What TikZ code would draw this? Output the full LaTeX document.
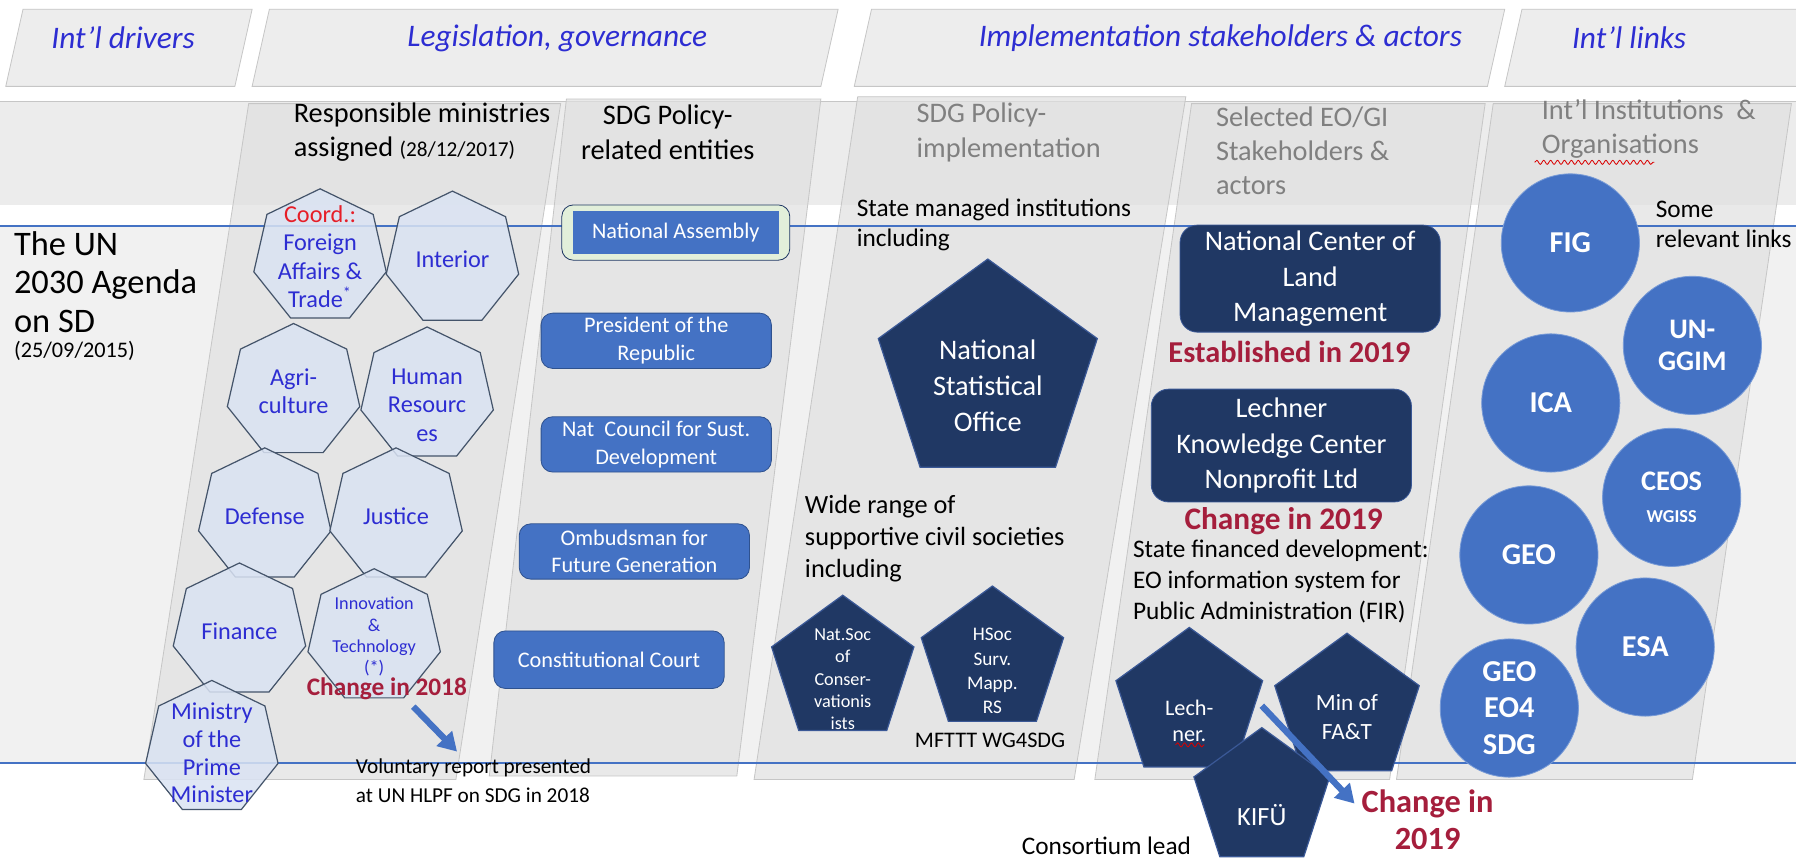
\documentclass[tikz,border=0pt]{standalone}
\usepackage{fontspec}
\setmainfont{Carlito}
\usetikzlibrary{shapes.geometric,arrows.meta,decorations.pathmorphing}
\definecolor{hdrblue}{RGB}{45,45,210}
\definecolor{coordred}{RGB}{230,30,40}
\definecolor{minfill}{RGB}{218,227,243}
\definecolor{minline}{RGB}{68,84,106}
\definecolor{boxblue}{RGB}{68,114,196}
\definecolor{boxline}{RGB}{47,82,143}
\definecolor{navy}{RGB}{32,56,100}
\definecolor{pentline}{RGB}{58,88,150}
\definecolor{orgline}{RGB}{120,155,215}
\definecolor{changered}{RGB}{165,30,60}
\definecolor{headgray}{RGB}{128,128,128}
\definecolor{panelgray}{RGB}{224,224,224}
\definecolor{edgegray}{RGB}{198,198,198}
\definecolor{bandgray}{RGB}{236,236,236}
\definecolor{areagray}{RGB}{241,241,241}
\definecolor{hdrfill}{RGB}{237,237,237}
\definecolor{paleframe}{RGB}{226,239,218}

\begin{document}
\begin{tikzpicture}[x=0.2mm, y=-0.2mm,
    hdr/.style={fill=hdrfill, draw=edgegray},
    hdrtext/.style={text=hdrblue, font=\itshape\fontsize{15.5}{19}\selectfont},
    panel/.style={fill=panelgray, fill opacity=0.7, draw=edgegray},
    colhead/.style={align=left, anchor=west, font=\fontsize{14}{17}\selectfont},
    note/.style={align=left, anchor=west, font=\fontsize{12.5}{15}\selectfont},
    agenda/.style={draw=boxblue, line width=1pt},
    ministry/.style={regular polygon, regular polygon sides=7, minimum size=23.6mm, inner sep=0pt,
        draw=minline, fill=minfill, fill opacity=0.85, line width=0.6pt},
    mintext/.style={align=center, text=hdrblue, font=\fontsize{12}{14}\selectfont},
    entity/.style={rounded corners=2mm, fill=boxblue, draw=boxline, text=white, align=center,
        minimum width=40mm, minimum height=9.6mm, inner sep=1pt, font=\fontsize{11}{13.7}\selectfont},
    pent/.style={regular polygon, regular polygon sides=5, inner sep=0pt, draw=pentline, fill=navy, line width=0.6pt},
    penttext/.style={align=center, text=white},
    stake/.style={rounded corners=3mm, fill=navy, draw=pentline, text=white, align=center,
        minimum width=45.2mm, minimum height=18.6mm, inner sep=0pt, font=\fontsize{14}{17.5}\selectfont},
    org/.style={circle, fill=boxblue, draw=orgline, minimum size=24mm, inner sep=0.5mm, text=white,
        align=center, font=\bfseries\fontsize{15}{17}\selectfont},
    change/.style={text=changered, align=center, font=\bfseries\fontsize{15}{18}\selectfont},
    moveline/.style={draw=boxblue, line width=1.1mm, -{Triangle[length=3.2mm,width=3.6mm]}},
    squiggle/.style={draw=red!85!black, decorate, decoration={snake, amplitude=0.35mm, segment length=1.2mm}},
]
    % Canvas and bands
    \useasboundingbox (0,0) rectangle (1560,747);
    \fill[white] (0,0) rectangle (1560,747);
    \fill[bandgray] (0,88) rectangle (1560,178);
    \draw[edgegray] (0,88) -- (1560,88);
    \fill[areagray] (0,196) rectangle (1560,663);

    % Header row
    \draw[hdr] (20,8) -- (219,8) -- (204,75) -- (5,75) -- cycle;
    \draw[hdr] (234,8) -- (728,8) -- (713,75) -- (219,75) -- cycle;
    \draw[hdr] (757,8) -- (1307,8) -- (1292,75) -- (742,75) -- cycle;
    \draw[hdr] (1322,8) -- (1600,8) -- (1585,75) -- (1307,75) -- cycle;
    \node[hdrtext] (hddrivers) at (107,33) {Int’l drivers};
    \node[hdrtext] (hdlegis) at (484,33) {Legislation, governance};
    \node[hdrtext] (hdimpl) at (1060,33) {Implementation stakeholders \& actors};
    \node[hdrtext] (hdlinks) at (1415,33) {Int’l links};

    % Column panels
    \draw[panel] (216,90) -- (487,90) -- (396,677) -- (125,677) -- cycle;
    \draw[panel] (492,86) -- (713,86) -- (640,674) -- (425,674) -- cycle;
    \draw[panel] (745,84) -- (1030,84) -- (933,677) -- (655,677) -- cycle;
    \draw[panel] (1035,90) -- (1290,90) -- (1207,677) -- (951,677) -- cycle;
    \draw[panel] (1297,90) -- (1556,90) -- (1470,677) -- (1213,677) -- cycle;

    % Agenda lines
    \draw[agenda] (0,196) -- (1560,196);
    \draw[agenda] (0,663) -- (1560,663);

    % Column headings
    \node[colhead] (c1head) at (249,115) {Responsible ministries\\assigned {\fontsize{10.5}{12}\selectfont (28/12/2017)}};
    \node[colhead, align=center, anchor=center] (c2head) at (580,115) {SDG Policy-\\related entities};
    \node[colhead, text=headgray] (c3head) at (790,115) {SDG Policy-\\implementation};
    \node[colhead, text=headgray] (c4head) at (1050,131) {Selected EO/GI\\Stakeholders \&\\actors};
    \node[colhead, text=headgray] (c5head) at (1333,112) {Int’l Institutions\ \ \&\\Organisations};
    \draw[squiggle] (1333,141) -- (1437,141);

    % The UN agenda
    \node[anchor=west, align=left, font=\fontsize{17}{19}\selectfont] (unagenda) at (6,245) {The UN\\2030 Agenda\\on SD};
    \node[anchor=west, font=\fontsize{11}{13}\selectfont] (undate) at (6,305) {(25/09/2015)};

    % Responsible ministries
    \node[ministry, label={[mintext]center:{\textcolor{coordred}{Coord.:}\\Foreign\\Affairs \&\\Trade\textsuperscript{*}}}] (foreign) at (278,223) {};
    \node[ministry, label={[mintext]center:{Interior}}] (interior) at (393,225) {};
    \node[ministry, label={[mintext]center:{Agri-\\culture}}] (agri) at (255,340) {};
    \node[ministry, label={[mintext, yshift=-1.8mm]center:{Human\\Resourc\\es}}] (human) at (371,343) {};
    \node[ministry, label={[mintext]center:{Defense}}] (defense) at (230,448) {};
    \node[ministry, label={[mintext]center:{Justice}}] (justice) at (344,448) {};
    \node[ministry, label={[mintext]center:{Finance}}] (finance) at (208,548) {};
    \node[ministry, label={[mintext, font=\fontsize{9}{10.5}\selectfont]center:{Innovation\\\&\\Technology\\(*)}}] (innov) at (325,553) {};
    \node[ministry, label={[mintext, yshift=-0.8mm, font=\fontsize{12}{13.7}\selectfont]center:{Ministry\\of the\\Prime\\Minister}}] (primemin) at (184,650) {};
    \node[change, font=\bfseries\fontsize{12.5}{15}\selectfont] (chg18) at (336,598) {Change in 2018};
    \node[note, font=\fontsize{10.5}{14.2}\selectfont] (voluntary) at (303,678) {Voluntary report presented\\at UN HLPF on SDG in 2018};
    \draw[moveline] ([xshift=4.6mm]chg18.south) -- ([xshift=18.8mm]voluntary.north west);

    % SDG policy-related entities
    \node[rounded corners=2mm, fill=paleframe, draw=navy, minimum width=39.6mm, minimum height=9.6mm] (nassframe) at (587,202) {};
    \node[fill=boxblue, text=white, minimum width=35.8mm, minimum height=7.4mm, inner sep=0pt, font=\fontsize{11}{13.7}\selectfont] (nassembly) at (587,202) {National Assembly};
    \node[entity] (president) at (570,296) {President of the\\Republic};
    \node[entity] (natcouncil) at (570,386) {Nat\ \ Council for Sust.\\Development};
    \node[entity] (ombudsman) at (551,479) {Ombudsman for\\Future Generation};
    \node[entity, minimum height=10mm] (constcourt) at (529,573) {Constitutional Court};

    % SDG policy implementation
    \node[note, font=\fontsize{12.5}{14.8}\selectfont] (statemanaged) at (738,195) {State managed institutions\\including};
    \node[pent, minimum size=40mm, label={[penttext, yshift=-2mm, font=\fontsize{14}{17.6}\selectfont]center:{National\\Statistical\\Office}}] (nso) at (858,325) {};
    \node[note, font=\fontsize{13}{15.9}\selectfont] (civil) at (693,468) {Wide range of\\supportive civil societies\\including};
    \node[pent, minimum size=26mm, label={[penttext, yshift=-1.6mm, font=\fontsize{9}{11}\selectfont]center:{Nat.Soc\\of\\Conser-\\vationis\\ists}}] (natsoc) at (732,582) {};
    \node[pent, minimum size=26mm, label={[penttext, yshift=-1.8mm, font=\fontsize{9.5}{12}\selectfont]center:{HSoc\\Surv.\\Mapp.\\RS}}] (hsoc) at (862,574) {};
    \node[font=\fontsize{11}{13}\selectfont] (mfttt) at (860,643) {MFTTT WG4SDG};

    % Selected EO/GI stakeholders
    \node[stake] (nclm) at (1138,242) {National Center of\\Land\\Management};
    \node[change] (est19) at (1120,306) {Established in 2019};
    \node[stake, minimum height=19.6mm] (lechnerkc) at (1113,387) {Lechner\\Knowledge Center\\Nonprofit Ltd};
    \node[change, font=\bfseries\fontsize{15.5}{18}\selectfont] (chg19a) at (1115,453) {Change in 2019};
    \node[note, font=\fontsize{12.5}{15.4}\selectfont] (fir) at (978,505) {State financed development:\\EO information system for\\Public Administration (FIR)};
    \node[pent, minimum size=26.8mm, label={[penttext, yshift=-2.8mm, font=\fontsize{11}{13}\selectfont]center:{Lech-\\ner.}}] (lechner) at (1033,612) {};
    \draw[squiggle] (1021,647) -- (1046,647);
    \node[pent, minimum size=26.4mm, label={[penttext, yshift=-1.4mm, font=\fontsize{11.5}{14.2}\selectfont]center:{Min of\\FA\&T}}] (minfat) at (1170,616) {};
    \node[pent, minimum size=24.8mm, label={[penttext, yshift=-2.8mm, font=\fontsize{13}{15}\selectfont]center:{KIFÜ}}] (kifu) at (1096,694) {};
    \node[inner sep=0pt, font=\fontsize{12.5}{15}\selectfont] (consortium) at (961,735) {Consortium lead};
    \node[change, font=\bfseries\fontsize{16}{18.2}\selectfont] (chg19b) at (1240,712) {Change in\\2019};
    \coordinate (firshift) at (1096,613);
    \draw[moveline] (firshift) -- ([yshift=2.8mm]chg19b.west);

    % International institutions
    \node[org] (fig) at (1364,211) {FIG};
    \node[org, font=\bfseries\fontsize{14}{16}\selectfont] (unggim) at (1470,300) {UN-\\GGIM};
    \node[org] (ica) at (1347,350) {ICA};
    \node[org, font=\bfseries\fontsize{14}{16}\selectfont] (ceos) at (1452,432) {CEOS\\{\fontsize{9}{11}\selectfont WGISS}};
    \node[org] (geo) at (1328,482) {GEO};
    \node[org] (esa) at (1429,562) {ESA};
    \node[org, font=\bfseries\fontsize{15}{18}\selectfont] (geoeo) at (1311,615) {GEO\\EO4\\SDG};
    \node[note, font=\fontsize{12.5}{14.8}\selectfont] (links) at (1432,195) {Some\\relevant links};
\end{tikzpicture}
\end{document}
